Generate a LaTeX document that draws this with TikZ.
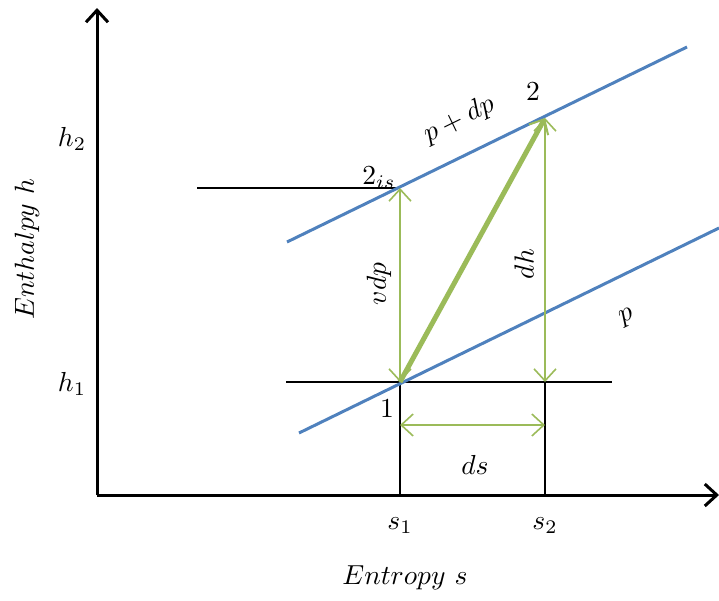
\documentclass[tikz,border=0pt]{standalone}
\usetikzlibrary{arrows.meta}
\definecolor{lineblue}{RGB}{79,129,189}
\definecolor{linegreen}{RGB}{155,187,89}
\begin{document}
\begin{tikzpicture}[x=1pt,y=-1pt,
  axis/.style={line width=3pt,-{Straight Barb[length=12pt,width=22pt,line width=3pt]}},
  isobar/.style={lineblue,line width=3pt},
  guide/.style={black,line width=1.4pt},
  dim/.style={linegreen,line width=1.6pt,{Straight Barb[length=12pt,width=22pt]}-{Straight Barb[length=12pt,width=22pt]}},
  proc/.style={linegreen,line width=5pt,-{Straight Barb[length=12pt,width=22pt,line width=2pt]}},
  lab/.style={scale=2.75,inner sep=0.3pt}]
\useasboundingbox (0,0) rectangle (719,600);
% named points
\coordinate (O) at (97,495);
\coordinate (ytop) at (97,8);
\coordinate (xend) at (719,495);
\coordinate (up1) at (287,242);
\coordinate (up2) at (687,47);
\coordinate (lo1) at (299,433);
\coordinate (lo2) at (719,228);
\coordinate (P1) at (400,382);
\coordinate (P2) at (545,118);
\coordinate (P2is) at (400,188);
\coordinate (h2l) at (197,188);
\coordinate (h1l) at (286,382);
\coordinate (h1r) at (612,382);
\coordinate (s1) at (400,495);
\coordinate (s2) at (545,495);
\coordinate (P2b) at (545,382);
\coordinate (dsl) at (400,425);
\coordinate (dsr) at (545,425);
% guides
\draw[guide] (h2l) -- (P2is);
\draw[guide] (h1l) -- (h1r);
\draw[guide] (P1) -- (s1);
\draw[guide] (P2b) -- (s2);
% isobars
\draw[isobar] (up1) -- (up2);
\draw[isobar] (lo1) -- (lo2);
% dimension arrows
\draw[dim] (P2is) -- (P1);
\draw[dim] (P2) -- (P2b);
\draw[dim] (dsl) -- (dsr);
% process
\draw[proc] (P1) -- (P2);
% axes
\draw[axis] (O) -- (ytop);
\draw[axis] (O) -- (xend);
% labels
\node[lab] (lh2) at (72,139) {$h_2$};
\node[lab] (lh1) at (72,384) {$h_1$};
\node[lab,rotate=90] (ly) at (27,249) {$Enthalpy\ h$};
\node[lab] (ls1) at (400,526) {$s_1$};
\node[lab] (ls2) at (545,526) {$s_2$};
\node[lab] (lx) at (405,578) {$Entropy\ s$};
\node[lab] (l2is) at (379,178) {$2_{is}$};
\node[lab] (l2) at (533,92) {$2$};
\node[lab] (l1) at (387,409) {$1$};
\node[lab,rotate=26] (lpdp) at (459,120) {$p+dp$};
\node[lab,rotate=26] (lp) at (627,318) {$p$};
\node[lab,rotate=90] (lvdp) at (379,284) {$vdp$};
\node[lab,rotate=90] (ldh) at (524,264) {$dh$};
\node[lab] (lds) at (475,465) {$ds$};
\end{tikzpicture}
\end{document}
